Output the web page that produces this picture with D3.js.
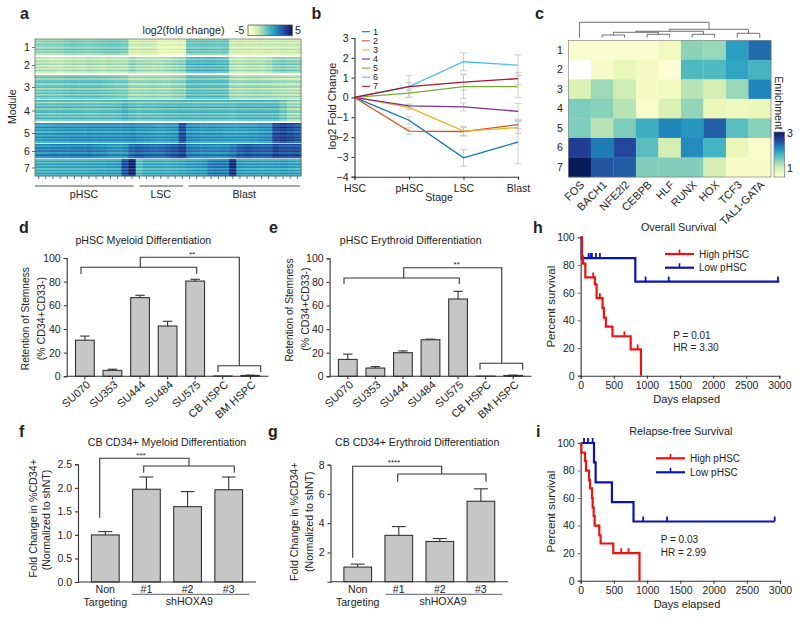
<!DOCTYPE html>
<html><head><meta charset="utf-8">
<script src="https://cdn.jsdelivr.net/npm/d3@7"></script>
<style>
html,body{margin:0;padding:0;background:#fff}
svg{display:block}
text{font-family:"Liberation Sans",Arial,sans-serif;fill:#222}
</style></head><body><svg id="c" width="800" height="618"></svg>
<script>
// ---------- panel a data: one profile per module over the 37 samples, plus row stripes
const moduleLabels=["1","2","3","4","5","6","7"];
const m1=[-1.7,-1.6,-1.7,-1.6,-1.3,-1.2,-1.3,-1.4,-1.3,-1.2,-1.1,-1.1,-1.3,-3,-3.1,-2.9,-3,-3.7,-3.8,-3.7,-3.6,-1,-1,-.9,-1,-1.1,-1,-3,-2.9,-3,-3.1,-3,-2.9,-3,-2.8,-2.9,-2.9];
const m2=[-2.5,-2.5,-2.7,-2.8,-2.5,-2.4,-2.5,-2.3,-2.4,-2.5,-2.3,-2.4,-2.4,-1.7,-2.1,-2.2,-2.3,-2.2,-2,-1.8,-1.6,-.5,-.4,-.4,-.3,-.5,-.6,-2.4,-2.5,-2.4,-2.3,-2.4,-2.1,-1.5,-1.3,-1.5,-1.6];
const m3=[-1.2,-1.1,-1.2,-1.2,-1,-.9,-1,-1,-1,-1.1,-1.2,-1.3,-1.3,-2.1,-2.1,-2,-1.9,-2,-2,-1.8,-1.7,-.7,-.7,-.8,-.8,-.8,-.9,-2.1,-2.2,-2.1,-2,-2.1,-2.1,-2.2,-2.3,-2.4,-2.4];
const m4=[-.7,-.7,-.8,-.7,-.6,-.7,-.7,-.8,-.8,-.7,-.7,-.6,-.2,-.6,-.8,-.7,-.7,-.6,-.5,-.5,-.4,-.4,-.5,-.4,-.5,-.5,-.5,-.6,-.4,-.4,-.4,-.4,-.4,-.4,-1,-1.8,-1.9];
const m5=[.6,.7,.7,.8,.8,.9,.9,1,.9,.9,.9,.9,1,1.1,.9,.8,.7,.6,.7,.8,3,1,.9,.7,.8,.7,.6,.6,.6,.6,.7,.9,1,3.1,3.4,3,2.6];
const m6=[1.4,1.4,1.5,1.5,1.5,1.6,1.6,1.7,1.5,1.4,1.1,1,1.2,2.3,2.6,2.3,2.1,2.2,2.6,2.9,3.5,1.8,1.6,1.5,1.5,1.4,1.5,1.9,2.6,2.9,2.7,2.6,2.5,3.4,3,3,3.1];
const m7=[.1,.1,.1,.2,.2,.2,.2,.3,.3,.3,.4,.5,3,4.5,-.5,.1,.1,.1,0,.1,.3,.5,.6,.7,1.5,1.6,1.6,4,.6,.5,.5,.4,.5,.5,.6,.4,.3];
const moduleColumns=[m1,m2,m3,m4,m5,m6,m7];
const s1=[-.5,.5,-.3,.6,.2,-.6,.8,-.2,.3,-.8];
const s2=[.3,-.9,.6,-.3,.9,-.8,.5,-.5,1,-.6];
const s3=[-.3,.8,-.9,.5,.9,-.8,.2,1,-1,.6,-.3,.8,-.6,.9,-.2];
const s4=[.9,-1.3,.5,-.6,1.2,-.9,.3,.9,-1.2,.6,-.5,1,-.8];
const s5=[.5,-.8,.9,-.5,.6,-1,.8,-.6,.9,-.3,.8,-.8];
const s6=[.3,-.9,.8,-.5,.9,-1,.2,1,-.6];
const s7=[-.8,.5,-.6,.9,-.3,.8,-.9,.6,-.5,.8,-.3];
const moduleStripes=[s1,s2,s3,s4,s5,s6,s7];
const cohortLabels=["pHSC","LSC","Blast"];
// ---------- panel b
const stages=["HSC","pHSC","LSC","Blast"];
const lineNames=["1","2","3","4","5","6","7"];
const l1=[0,-1.15,-3.05,-2.25], e1=[0,.2,.42,1.1];
const l2=[0,-1.7,-1.72,-1.37], e2=[0,.17,.2,.2];
const l3=[0,-.5,-1.7,-1.52], e3=[0,.12,.25,.3];
const l4=[0,-.43,-.48,-.7], e4=[0,.1,.2,.4];
const l5=[0,.22,.55,.55], e5=[0,.2,.6,.55];
const l6=[0,.55,1.8,1.63], e6=[0,.55,.45,.52];
const l7=[0,.55,.77,.95], e7=[0,.2,.4,.3];
const lineValues=[l1,l2,l3,l4,l5,l6,l7], lineErrors=[e1,e2,e3,e4,e5,e6,e7];
const lineColors=["#0072BD","#D95319","#EDB120","#7E2F8E","#77AC30","#4DBEEE","#A2142F"];
// ---------- panel c
const factors=["FOS","BACH1","NFE2l2","CEBPB","HLF","RUNX","HOX","TCF3","TAL1-GATA"];
const enrichRows=["1","2","3","4","5","6","7"];
const en1=[.58,.58,.58,.58,.7,1.38,1.33,1.95,2.3];
const en2=[0,.65,.8,.7,.53,1.68,1.68,1.9,1.75];
const en3=[.95,1.3,1.05,.68,.73,1.18,1,1.33,2.13];
const en4=[1.45,1.4,1.18,.6,.95,1.35,.8,.75,.8];
const en5=[1.45,1.18,1.45,1.8,2.13,2,2.38,1.63,1.4];
const en6=[2.63,2.2,2.55,1.63,1,2.08,1.75,.8,.6];
const en7=[3,2.45,2.4,1.43,1.43,1.43,1,.63,.65];
const enrichment=[en1,en2,en3,en4,en5,en6,en7];
const dendro={h:1,c:[{leaf:0},{h:.545,c:[{h:.416,c:[{h:.35,c:[{h:.175,c:[{leaf:1},{leaf:2}]},{h:.22,c:[{leaf:3},{leaf:4}]}]},{h:.22,c:[{leaf:5},{leaf:6}]}]},{h:.285,c:[{leaf:7},{leaf:8}]}]}]};
// ---------- panels d-g
const samples=["SU070","SU353","SU444","SU484","SU575","CB HSPC","BM HSPC"];
const dVals=[30.5,5,66.5,42.5,80.5,.3,.7], dErr=[3.5,1,2,4,1.5,0,.3];
const eVals=[14.3,7,20,31,65.5,.2,.7], eErr=[4.5,1.2,1.5,.5,6.5,0,.3];
const hairpins=["Non","#1","#2","#3"];
const fVals=[1,1.97,1.6,1.96], fErr=[.07,.26,.32,.27];
const gVals=[1,3.17,2.75,5.5], gErr=[.2,.6,.2,.85];
// ---------- panels h,i (Kaplan-Meier steps)
const hHigh=[[0,100],[20,86],[35,81],[70,71],[215,66],[240,56],[330,49],[350,42],[380,35.5],[480,28.5],[755,19],[910,0]];
const hHighC=[[190,71],[290,56],[660,28.5],[860,19]];
const hLow=[[0,100],[15,85],[825,68],[3000,68]];
const hLowC=[[120,85],[150,85],[170,85],[230,85],[290,85],[980,68],[1330,68],[2980,68]];
const iHigh=[[0,100],[10,93],[65,87],[80,80],[125,73],[140,67],[170,60],[180,53],[195,47],[210,40],[280,33],[300,27],[490,20],[885,0]];
const iHighC=[[610,20],[720,20]];
const iLow=[[0,100],[200,86],[225,71.4],[470,57],[795,43],[2920,43]];
const iLowC=[[50,100],[110,100],[180,100],[940,43],[1300,43],[2920,43]];
const kmTicks=[0,500,1000,1500,2000,2500,3000], pctTicks=[0,20,40,60,80,100];

const svg=d3.select("#c");
const FS=10.6, AX="#333";
function T(x,y,s,o={}){
  const t=svg.append("text").attr("x",x).attr("y",y).attr("dy",o.mid===false?0:"0.35em").text(s)
    .attr("font-size",o.fs||FS).attr("text-anchor",o.a||"middle");
  if(o.rot)t.attr("transform",`rotate(${o.rot} ${x} ${y})`);
  if(o.b)t.attr("font-weight","bold");
  return t;
}
function P(pts,col=AX,w=1.1){
  svg.append("path").attr("d",d3.line()(pts)).attr("fill","none").attr("stroke",col).attr("stroke-width",w);
}
function styleAxis(g,col=AX,w=1.1,fs=10.5){
  g.selectAll("path,line").attr("stroke",col).attr("stroke-width",w);
  g.selectAll("text").attr("font-size",fs).attr("font-family",'"Liberation Sans",Arial,sans-serif').attr("fill","#222");
}
[["a",20,19],["b",311.5,19],["c",535,19],["d",19,233],["e",269,233],["h",533,233],["f",19,437],["g",268,437],["i",536,437]]
 .forEach(d=>T(d[1],d[2],d[0],{b:1,fs:16,mid:false,a:"start"}));

// ===== a =====
(function(){
  const x=d3.scaleBand().domain(d3.range(37)).range([35,301]);
  const tops=[39,57,75,100,123,144,159], bots=[55,73,99,121,143,158,176];
  const col=d3.scaleSequential(d3.interpolateYlGnBu).domain([-5,5]);
  moduleColumns.forEach((cols,mi)=>{
    const y=d3.scaleBand().domain(d3.range(moduleStripes[mi].length)).range([tops[mi],bots[mi]]);
    moduleStripes[mi].forEach((st,r)=>{
      svg.append("g").selectAll("rect").data(cols).join("rect")
        .attr("x",(d,i)=>x(i)).attr("y",y(r)).attr("width",x.bandwidth()+.4).attr("height",y.bandwidth()+.3)
        .attr("fill",d=>col(d+st));
    });
    T(30,(tops[mi]+bots[mi])/2+.5,moduleLabels[mi],{a:"end"});
    P([[32,(tops[mi]+bots[mi])/2+.5],[35,(tops[mi]+bots[mi])/2+.5]],AX,.7);
  });
  svg.append("rect").attr("x",35).attr("y",39).attr("width",266).attr("height",137).attr("fill","none").attr("stroke","#556b50").attr("stroke-width",.7);
  d3.range(37).forEach(i=>P([[x(i)+x.bandwidth()/2,176],[x(i)+x.bandwidth()/2,179]],AX,.7));
  [[35,133.5],[139.5,183],[188.5,300]].forEach(s=>P([[s[0],186],[s[1],186]],"#222",.8));
  T(84,194,cohortLabels[0]);T(160.7,194,cohortLabels[1]);T(244.3,194,cohortLabels[2]);
  T(12,106.7,"Module",{rot:-90,fs:10.5});
  T(183.5,30.7,"log2(fold change)");
  T(235,30.7,"-5",{a:"start"});T(295,30.7,"5",{a:"start"});
  const defs=svg.append("defs").append("linearGradient").attr("id","ga");
  d3.range(0,1.01,.1).forEach(t=>defs.append("stop").attr("offset",t).attr("stop-color",d3.interpolateYlGnBu(t)));
  svg.append("rect").attr("x",248).attr("y",25).attr("width",44.3).attr("height",10.7).attr("fill","url(#ga)").attr("stroke","#444").attr("stroke-width",.7);
})();

// ===== b =====
(function(){
  const x=d3.scalePoint().domain(stages).range([354.5,518]);
  const y=d3.scaleLinear().domain([-4,3]).range([176.7,38]);
  const ln=d3.line().x((d,i)=>x(stages[i])).y(d=>y(d));
  lineValues.forEach((v,k)=>{
    v.forEach((d,i)=>{ if(!lineErrors[k][i])return;
      const px=x(stages[i]),a=y(d-lineErrors[k][i]),b=y(d+lineErrors[k][i]);
      P([[px,a],[px,b]],"#c4c4c4",.8);P([[px-3.5,a],[px+3.5,a]],"#c4c4c4",.8);P([[px-3.5,b],[px+3.5,b]],"#c4c4c4",.8);
    });
  });
  lineValues.forEach((v,k)=>{
    svg.append("path").attr("d",ln(v)).attr("fill","none").attr("stroke",lineColors[k]).attr("stroke-width",1.3);
    const ly=31.7+k*9.1;
    P([[362,ly],[370,ly]],lineColors[k],1.1);
    T(373,ly,lineNames[k],{a:"start",fs:9});
  });
  const gy=svg.append("g").attr("transform","translate(354.5,0)").call(d3.axisLeft(y).tickValues(d3.range(-4,4)).tickSize(3).tickFormat(d3.format("d")));
  styleAxis(gy);
  const gx=svg.append("g").attr("transform","translate(0,176.7)").call(d3.axisBottom(x).tickSize(3));
  styleAxis(gx);gx.selectAll("text").attr("dy","0.9em");
  T(331.7,106,"log2 Fold Change",{rot:-90,fs:11});
  T(439,197.5,"Stage");
})();

// ===== c =====
(function(){
  const x=d3.scaleBand().domain(factors).range([568.3,771]);
  const y=d3.scaleBand().domain(enrichRows).range([40.3,177]);
  const col=d3.scaleSequential(d3.interpolateYlGnBu).domain([.5,3]);
  enrichment.forEach((r,ri)=>{
    svg.append("g").selectAll("rect").data(r).join("rect")
      .attr("x",(d,i)=>x(factors[i])).attr("y",y(enrichRows[ri])).attr("width",x.bandwidth()+.3).attr("height",y.bandwidth()+.3)
      .attr("fill",d=>d<.5?"#ffffff":col(d));
    T(563,y(enrichRows[ri])+y.bandwidth()/2,enrichRows[ri],{a:"end"});
  });
  svg.append("rect").attr("x",568.3).attr("y",40.3).attr("width",202.7).attr("height",136.7).attr("fill","none").attr("stroke","#777").attr("stroke-width",.6);
  factors.forEach(f=>T(x(f)+x.bandwidth()/2,180,f,{a:"end",rot:-45,mid:false,fs:11}).attr("dy","0.7em"));
  const h=d3.scaleLinear().domain([0,1]).range([37.7,22.3]);
  (function draw(n){
    if(n.leaf!==undefined)return {x:x(factors[n.leaf])+x.bandwidth()/2,y:h(0)};
    const a=draw(n.c[0]),b=draw(n.c[1]),yy=h(n.h);
    P([[a.x,a.y],[a.x,yy],[b.x,yy],[b.x,b.y]],"#333",.7);
    return {x:(a.x+b.x)/2,y:yy};
  })(dendro);
  const lg=svg.append("defs").append("linearGradient").attr("id","gc").attr("x1",0).attr("x2",0).attr("y1",1).attr("y2",0);
  d3.range(0,1.01,.1).forEach(t=>lg.append("stop").attr("offset",t).attr("stop-color",d3.interpolateYlGnBu(t)));
  svg.append("rect").attr("x",774).attr("y",132).attr("width",10.7).attr("height",45).attr("fill","url(#gc)").attr("stroke","#777").attr("stroke-width",.7);
  T(787,133,"3",{a:"start"});T(787,168,"1",{a:"start"});
  T(779,103,"Enrichment",{rot:90});
})();

// ===== d,e,f,g =====
function bars(o){
  const x=d3.scaleBand().domain(o.cats).range(o.xr).padding(o.pad||.32);
  const y=d3.scaleLinear().domain(o.dom).range(o.yr);
  o.vals.forEach((v,i)=>{
    const c=o.cats[i],cx=x(c)+x.bandwidth()/2,t=y(v+o.err[i]);
    if(o.err[i]>0){P([[cx,y(v)],[cx,t]],"#333",1.1);P([[cx-x.bandwidth()/4,t],[cx+x.bandwidth()/4,t]],"#333",1.1);}
  });
  svg.append("g").selectAll("rect").data(o.vals).join("rect")
    .attr("x",(d,i)=>x(o.cats[i])).attr("width",x.bandwidth())
    .attr("y",d=>y(d)).attr("height",d=>o.yr[0]-y(d))
    .attr("fill","#c6c6c6").attr("stroke","#333").attr("stroke-width",1.1);
  const gy=svg.append("g").attr("transform",`translate(${o.xr[0]},0)`).call(d3.axisLeft(y).tickValues(o.ticks).tickSize(3).tickFormat(o.fmt));
  styleAxis(gy);
  const gx=svg.append("g").attr("transform",`translate(0,${o.yr[0]})`).call(d3.axisBottom(x).tickSize(o.rot?3:0).tickFormat(""));
  styleAxis(gx);
  gx.select(".domain").attr("d",`M${o.xr[0]},0H${o.xr[1]}`);
  return x;
}
function rotLabels(x,y0){
  samples.forEach(c=>T(x(c)+x.bandwidth()/2+1,y0,c,{a:"end",rot:-42,mid:false,fs:11}).attr("dy","0.7em"));
}
// d
{
  const x=bars({cats:samples,vals:dVals,err:dErr,xr:[66.7,268.5],yr:[376.3,258],dom:[0,100],ticks:d3.range(0,101,20),fmt:d3.format("d"),rot:true});
  rotLabels(x,380);
  T(143.3,240,"pHSC Myeloid Differentiation");
  T(25,318.7,"Retention of Stemness",{rot:-90,fs:10.2});T(41.7,318.7,"(% CD34+CD33-)",{rot:-90});
  P([[81,274],[81,267.3],[196.7,267.3],[196.7,274]]);P([[140.3,267.3],[140.3,257.3],[239.3,257.3],[239.3,365.7]]);
  P([[218,372],[218,365.7],[260.7,365.7],[260.7,372]]);
  T(192,254.5,"**",{fs:8});
}
// e
{
  const x=bars({cats:samples,vals:eVals,err:eErr,xr:[329.6,531.4],yr:[376.3,258.3],dom:[0,100],ticks:d3.range(0,101,20),fmt:d3.format("d"),rot:true});
  rotLabels(x,380);
  T(410.7,240,"pHSC Erythroid Differentiation");
  T(289,310,"Retention of Stemness",{rot:-90,fs:10.2});T(305.7,309,"(% CD34+CD33-)",{rot:-90});
  P([[344,284],[344,278],[459.3,278],[459.3,284]]);P([[403.7,278],[403.7,267.7],[501.7,267.7],[501.7,363.3]]);
  P([[480,369.7],[480,363.3],[522.7,363.3],[522.7,369.7]]);
  T(456.7,264.5,"**",{fs:8});
}
function hairLabels(x,ul0,ul1,shx){
  hairpins.forEach((c,i)=>{
    const cx=x(c)+x.bandwidth()/2;
    T(cx,589.3,c);
    if(i==0)T(cx,602.3,"Targeting");
  });
  P([[ul0,594.3],[ul1,594.3]],"#333",.8);
  T(shx,601.7,"shHOXA9");
}
// f
{
  const x=bars({cats:hairpins,vals:fVals,err:fErr,xr:[78,256],yr:[582,464.3],dom:[0,2.5],pad:.326,ticks:[0,.5,1,1.5,2,2.5],fmt:d3.format(".1f")});
  hairLabels(x,131.7,249.3,189.3);
  T(167,442,"CB CD34+ Myeloid Differentiation");
  T(33.3,518.3,"Fold Change in %CD34+",{rot:-90,fs:10.7});T(46,520,"(Normalized to shNT)",{rot:-90});
  P([[99.7,517.7],[99.7,458.3],[189,458.3],[189,466]]);
  P([[143.7,472.7],[143.7,466],[234.3,466],[234.3,472.7]]);
  T(141,455.5,"***",{fs:8});
}
// g
{
  const x=bars({cats:hairpins,vals:gVals,err:gErr,xr:[330.5,508.1],yr:[581.7,464.7],dom:[0,8],pad:.326,ticks:[2,4,6,8],fmt:d3.format("d")});
  hairLabels(x,385.7,502.3,443);
  T(417.2,442,"CB CD34+ Erythroid Differentiation");
  T(294.3,521.7,"Fold Change in %CD34+",{rot:-90,fs:10.7});T(309.3,521.7,"(Normalized to shNT)",{rot:-90});
  P([[352.7,557.7],[352.7,466.3],[441.7,466.3],[441.7,474]]);
  P([[397.7,481.7],[397.7,474],[486,474],[486,481.7]]);
  T(394,462,"****",{fs:8});
}

// ===== h,i =====
function km(o){
  const x=d3.scaleLinear().domain([0,3000]).range(o.xr);
  const y=d3.scaleLinear().domain([0,100]).range(o.yr);
  const gy=svg.append("g").attr("transform",`translate(${o.xr[0]},0)`).call(d3.axisLeft(y).tickValues(pctTicks).tickSize(3));
  styleAxis(gy,"#666",1.5);gy.selectAll(".tick line").attr("stroke-width",1);
  const gx=svg.append("g").attr("transform",`translate(0,${o.yr[0]})`).call(d3.axisBottom(x).tickValues(kmTicks).tickSize(3).tickFormat(d3.format("d")));
  styleAxis(gx);
  const ln=d3.line().curve(d3.curveStepAfter).x(d=>x(d[0])).y(d=>y(d[1]));
  [[o.low,o.lowC,"#0a14b4"],[o.high,o.highC,"#f01010"]].forEach(s=>{
    svg.append("path").attr("d",ln(s[0])).attr("fill","none").attr("stroke",s[2]).attr("stroke-width",2.2);
    svg.append("g").selectAll("line").data(s[1]).join("line")
      .attr("x1",d=>x(d[0])).attr("x2",d=>x(d[0])).attr("y1",d=>y(d[1])).attr("y2",d=>y(d[1])-5)
      .attr("stroke",s[2]).attr("stroke-width",1.8);
  });
  [["High pHSC","#f01010",o.l1],["Low pHSC","#0a14b4",o.l2]].forEach(s=>{
    P([[o.lx,s[2]],[o.lx+29,s[2]]],s[1],2.2);
    P([[o.lx+14.5,s[2]],[o.lx+14.5,s[2]-4.5]],s[1],1.6);
    T(o.lx+34,s[2],s[0],{a:"start",fs:10});
  });
  T(o.px,o.py1,o.p,{a:"start",fs:10});T(o.px,o.py2,o.hr,{a:"start",fs:10});
  T(o.tx,o.ty,o.title,{fs:10.8});
  T(550.7,o.yc,"Percent survival",{rot:-90,fs:11.5});
  T(o.xc,o.xy,"Days elapsed",{fs:11});
}
km({xr:[580.7,779.3],yr:[375.7,237.3],high:hHigh,highC:hHighC,low:hLow,lowC:hLowC,lx:665,l1:254,l2:267.7,px:673.3,py1:335,py2:347.7,p:"P = 0.01",hr:"HR = 3.30",tx:678.7,ty:227,title:"Overall Survival",yc:306.7,xc:686.7,xy:399.3});
km({xr:[580.7,780],yr:[580.7,443],high:iHigh,highC:iHighC,low:iLow,lowC:iLowC,lx:656,l1:458.3,l2:472.3,px:660.7,py1:539.3,py2:552,p:"P = 0.03",hr:"HR = 2.99",tx:680.8,ty:431.7,title:"Relapse-free Survival",yc:511.7,xc:687,xy:604.3});
</script></body></html>
